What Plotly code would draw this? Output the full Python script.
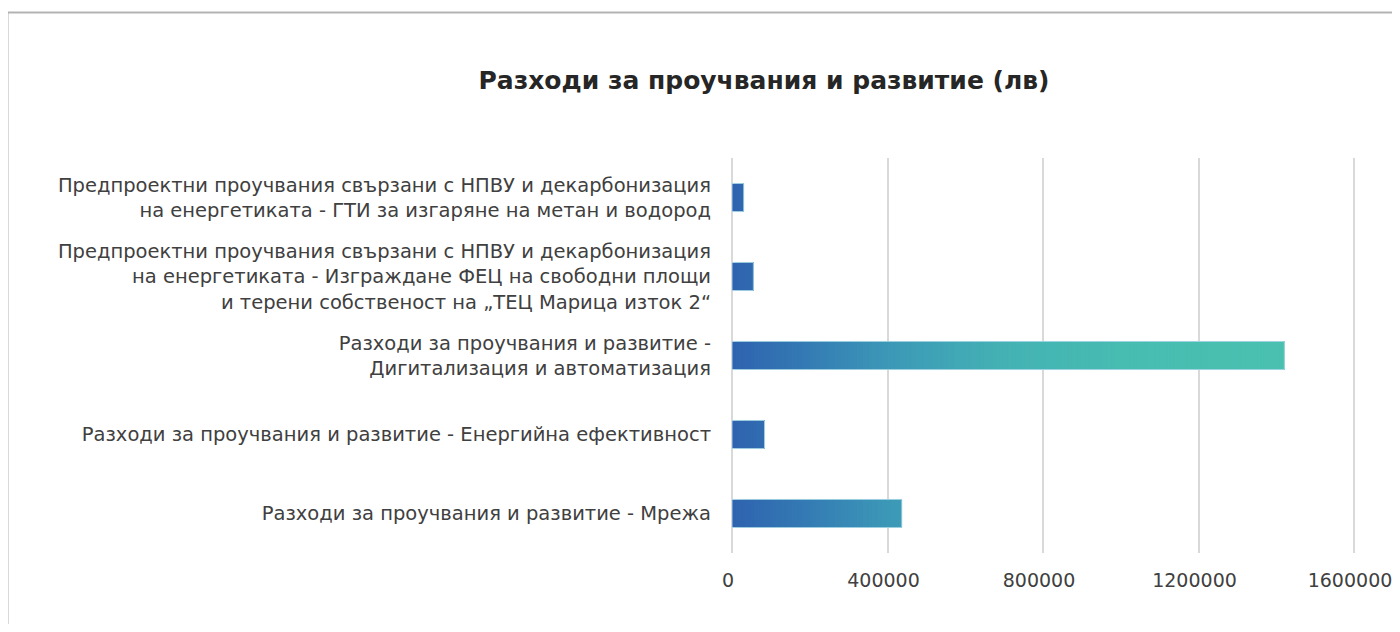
import plotly.graph_objects as go

categories = [
    "Предпроектни проучвания свързани с НПВУ и декарбонизация<br>на енергетиката - ГТИ за изгаряне на метан и водород",
    "Предпроектни проучвания свързани с НПВУ и декарбонизация<br>на енергетиката - Изграждане ФЕЦ на свободни площи<br>и терени собственост на „ТЕЦ Марица изток 2“",
    "Разходи за проучвания и развитие -<br>Дигитализация и автоматизация",
    "Разходи за проучвания и развитие - Енергийна ефективност",
    "Разходи за проучвания и развитие - Мрежа",
]
values = [30000, 55000, 1421000, 83600, 436800]

title = "Разходи за проучвания и развитие (лв)"
tick_vals = [0, 400000, 800000, 1200000, 1600000]

# gradient stops along the x axis (value, rgb)
grad_stops = [
    (0, (47, 98, 175)),
    (200000, (52, 124, 180)),
    (400000, (60, 152, 183)),
    (700000, (68, 178, 180)),
    (1000000, (71, 188, 177)),
    (1450000, (74, 193, 176)),
]


def grad_color(v):
    for (a, ca), (b, cb) in zip(grad_stops[:-1], grad_stops[1:]):
        if v <= b:
            t = (v - a) / (b - a)
            c = [round(ca[i] + (cb[i] - ca[i]) * t) for i in range(3)]
            return "rgb(%d,%d,%d)" % tuple(c)
    return "rgb(%d,%d,%d)" % grad_stops[-1][1]


# plotly bars have no gradient fill, so each bar is painted as
# overlapping pieces that all run to the bar's end
step = 8000
seg_y, seg_base, seg_len, seg_col = [], [], [], []
for cat, val in zip(categories, values):
    b = 0
    while b < val:
        seg_y.append(cat)
        seg_base.append(b)
        seg_len.append(val - b)
        seg_col.append(grad_color(b + step / 2))
        b += step

fig = go.Figure()
fig.add_trace(go.Bar(
    y=seg_y, x=seg_len, base=seg_base, orientation="h",
    width=0.355,
    marker=dict(color=seg_col, line=dict(width=0)),
    hoverinfo="skip", showlegend=False,
))
fig.add_trace(go.Bar(
    y=categories, x=values, orientation="h",
    width=0.355,
    marker=dict(color="rgba(0,0,0,0)", line=dict(width=1, color="rgba(170,215,230,0.9)")),
    showlegend=False,
))

# plot area is a bit wider than the last tick so its gridline is kept
plot_w = 625
x_max = 1600000 * plot_w / 622

# outer chart frame (page has an 8px body margin)
fig.add_shape(type="rect", xref="paper", yref="paper",
              x0=-724.5 / plot_w, x1=1.2, y0=-0.3, y1=(395 + 150 - 4.5) / 395,
              line=dict(color="#b3b3b3", width=2), fillcolor="rgba(0,0,0,0)", layer="below")

fig.update_layout(
    width=1384, height=616,
    barmode="overlay",
    margin=dict(l=724, r=1384 - 724 - plot_w, t=150, b=71, autoexpand=False),
    plot_bgcolor="white",
    paper_bgcolor="white",
    font=dict(family="DejaVu Sans, Noto Sans, sans-serif", color="#404040", size=17),
    title=dict(
        text="<b>" + title + "</b>",
        x=756 / 1384, xref="container", xanchor="center",
        y=1 - 72 / 616, yref="container", yanchor="middle",
        font=dict(size=25, color="#262626"),
    ),
)
fig.update_xaxes(
    range=[0, x_max], tickvals=tick_vals, tickformat="d",
    showgrid=True, gridcolor="#d9d9d9", gridwidth=1.5,
    zeroline=True, zerolinecolor="#d9d9d9", zerolinewidth=1.5,
    showline=False, ticks="", ticklabelstandoff=14,
    ticklabeloverflow="allow", automargin=False, ticklabelshift=-4,
    tickfont=dict(size=19),
)
fig.update_yaxes(
    autorange="reversed", showgrid=False, showline=False, ticks="",
    ticklabelstandoff=20, tickfont=dict(size=19.5), automargin=False,
)

fig.write_html("out.html")
